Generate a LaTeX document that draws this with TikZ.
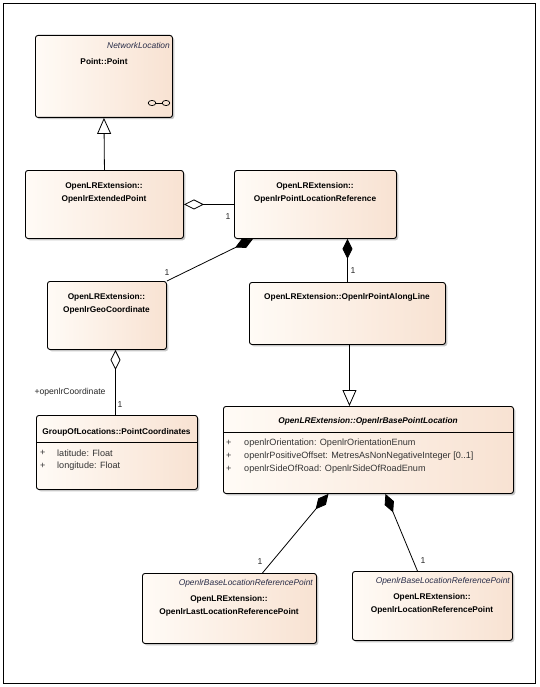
\documentclass[tikz,border=0pt]{standalone}
\usepackage{fontspec}
\setmainfont{Liberation Sans}
\usetikzlibrary{arrows.meta,shadows,calc}
\definecolor{boxL}{RGB}{255,251,246}
\definecolor{boxR}{RGB}{248,226,210}
\definecolor{stereo}{RGB}{40,44,72}
\begin{document}
\begin{tikzpicture}[x=1pt,y=-1pt,
  cls/.style={draw=black, line width=0.9pt, rounded corners=2.5pt,
    left color=boxL, right color=boxR,
    drop shadow={shadow xshift=1.8pt, shadow yshift=-1.8pt, fill=black!22, opacity=1},
    inner sep=0pt, anchor=north west},
  bname/.style={font=\fontsize{8.3}{10}\selectfont\bfseries, inner sep=0pt},
  biname/.style={font=\fontsize{8.3}{10}\selectfont\bfseries\itshape, inner sep=0pt},
  stname/.style={font=\fontsize{8.4}{10}\selectfont\itshape, text=stereo, inner sep=0pt, anchor=east},
  attr/.style={font=\fontsize{9.1}{10}\selectfont, text=black!80, inner sep=0pt, anchor=west},
  lbl/.style={font=\fontsize{8.6}{10}\selectfont, text=black!85, inner sep=0pt},
  conn/.style={draw=black, line width=0.8pt},
  genl/.style={conn, -{Triangle[fill=white, length=16pt, width=14pt]}},
  aggr/.style={conn, {Diamond[fill=white, length=20pt, width=10pt]}-},
  comp/.style={conn, {Diamond[fill=black, length=20pt, width=10pt]}-}
]
\useasboundingbox (0,0) rectangle (539,687);
\draw[line width=0.9pt] (3.5,3.5) rectangle (535.5,683.5);

% classes
\node[cls, minimum width=137pt, minimum height=82pt] (pt) at (35,35) {};
\node[cls, minimum width=158pt, minimum height=68pt] (ext) at (25,170) {};
\node[cls, minimum width=162pt, minimum height=68pt] (plr) at (234,170) {};
\node[cls, minimum width=119pt, minimum height=68pt] (geo) at (47,281) {};
\node[cls, minimum width=196pt, minimum height=62pt] (pal) at (249,282) {};
\node[cls, minimum width=161pt, minimum height=74pt] (pc) at (36,415) {};
\node[cls, minimum width=290pt, minimum height=87pt] (base) at (223,406) {};
\node[cls, minimum width=174pt, minimum height=70pt] (last) at (142,573) {};
\node[cls, minimum width=160pt, minimum height=69pt] (lrp) at (352,571) {};

% Point::Point
\node[stname] (ptst) at (170,45) {NetworkLocation};
\node[bname] (ptn) at (104,62) {Point::Point};
\draw[line width=0.7pt] (152,103) ellipse [x radius=3.8, y radius=2.6];
\draw[line width=0.7pt] (166,103) ellipse [x radius=3.8, y radius=2.6];
\draw[line width=0.7pt] (155.8,103) -- (162.2,103);

% ExtendedPoint
\node[bname] (ext1) at (104,186) {OpenLRExtension::};
\node[bname] (ext2) at (104,199) {OpenlrExtendedPoint};
% PointLocationReference
\node[bname] (plr1) at (315,186) {OpenLRExtension::};
\node[bname] (plr2) at (315,199) {OpenlrPointLocationReference};
% GeoCoordinate
\node[bname] (geo1) at (106.5,297) {OpenLRExtension::};
\node[bname] (geo2) at (106.5,310) {OpenlrGeoCoordinate};
% PointAlongLine
\node[bname] (pal1) at (347,297) {OpenLRExtension::OpenlrPointAlongLine};
% PointCoordinates
\node[bname] (pc1) at (116.5,432) {GroupOfLocations::PointCoordinates};
\draw[line width=0.8pt] (pc.west |- 0,442) -- (pc.east |- 0,442);
\node[attr] (pc2p) at (40,453) {+};
\node[attr] (pc2) at (57,453) {latitude: Float};
\node[attr] (pc3p) at (40,466) {+};
\node[attr] (pc3) at (57,466) {longitude: Float};
% BasePointLocation
\node[biname] (base1) at (368,421) {OpenLRExtension::OpenlrBasePointLocation};
\draw[line width=0.8pt] (base.west |- 0,432) -- (base.east |- 0,432);
\node[attr] (b2p) at (226,443) {+};
\node[attr] (b2) at (244,443) {openlrOrientation: OpenlrOrientationEnum};
\node[attr] (b3p) at (226,456) {+};
\node[attr] (b3) at (244,456) {openlrPositiveOffset: MetresAsNonNegativeInteger [0..1]};
\node[attr] (b4p) at (226,469) {+};
\node[attr] (b4) at (244,469) {openlrSideOfRoad: OpenlrSideOfRoadEnum};
% LastLocationReferencePoint
\node[stname] (lastst) at (313,583) {OpenlrBaseLocationReferencePoint};
\node[bname] (last1) at (229,599) {OpenLRExtension::};
\node[bname] (last2) at (229,612) {OpenlrLastLocationReferencePoint};
% LocationReferencePoint
\node[stname] (lrpst) at (510,581) {OpenlrBaseLocationReferencePoint};
\node[bname] (lrp1) at (432,597) {OpenLRExtension::};
\node[bname] (lrp2) at (432,610) {OpenlrLocationReferencePoint};

% connectors
\draw[genl] (ext.north) -- (pt.south);
\draw[aggr] (ext.east) -- (plr.west);
\node[lbl] (l1) at (228,217) {1};
\draw[comp] ($(plr.south west)+(19,0)$) -- (geo.north east);
\node[lbl] (l2) at (167,273) {1};
\draw[comp] (pal.north |- plr.south) -- (pal.north);
\node[lbl] (l3) at (353,271) {1};
\draw[genl] ($(pal.south)+(2,0)$) coordinate (pals) -- (pals |- base.north);
\draw[aggr] ($(geo.south)+(8.5,0)$) coordinate (geos) -- (geos |- pc.north);
\node[lbl] (l4) at (120,405) {1};
\node[lbl] (l5) at (70,392) {+openlrCoordinate};
\draw[comp] ($(base.south)+(-40,0)$) -- ($(last.north)+(33,0)$);
\node[lbl] (l6) at (260,562) {1};
\draw[comp] ($(base.south)+(17,0)$) -- ($(lrp.north)+(-15,0)$);
\node[lbl] (l7) at (423,561) {1};
\end{tikzpicture}
\end{document}
